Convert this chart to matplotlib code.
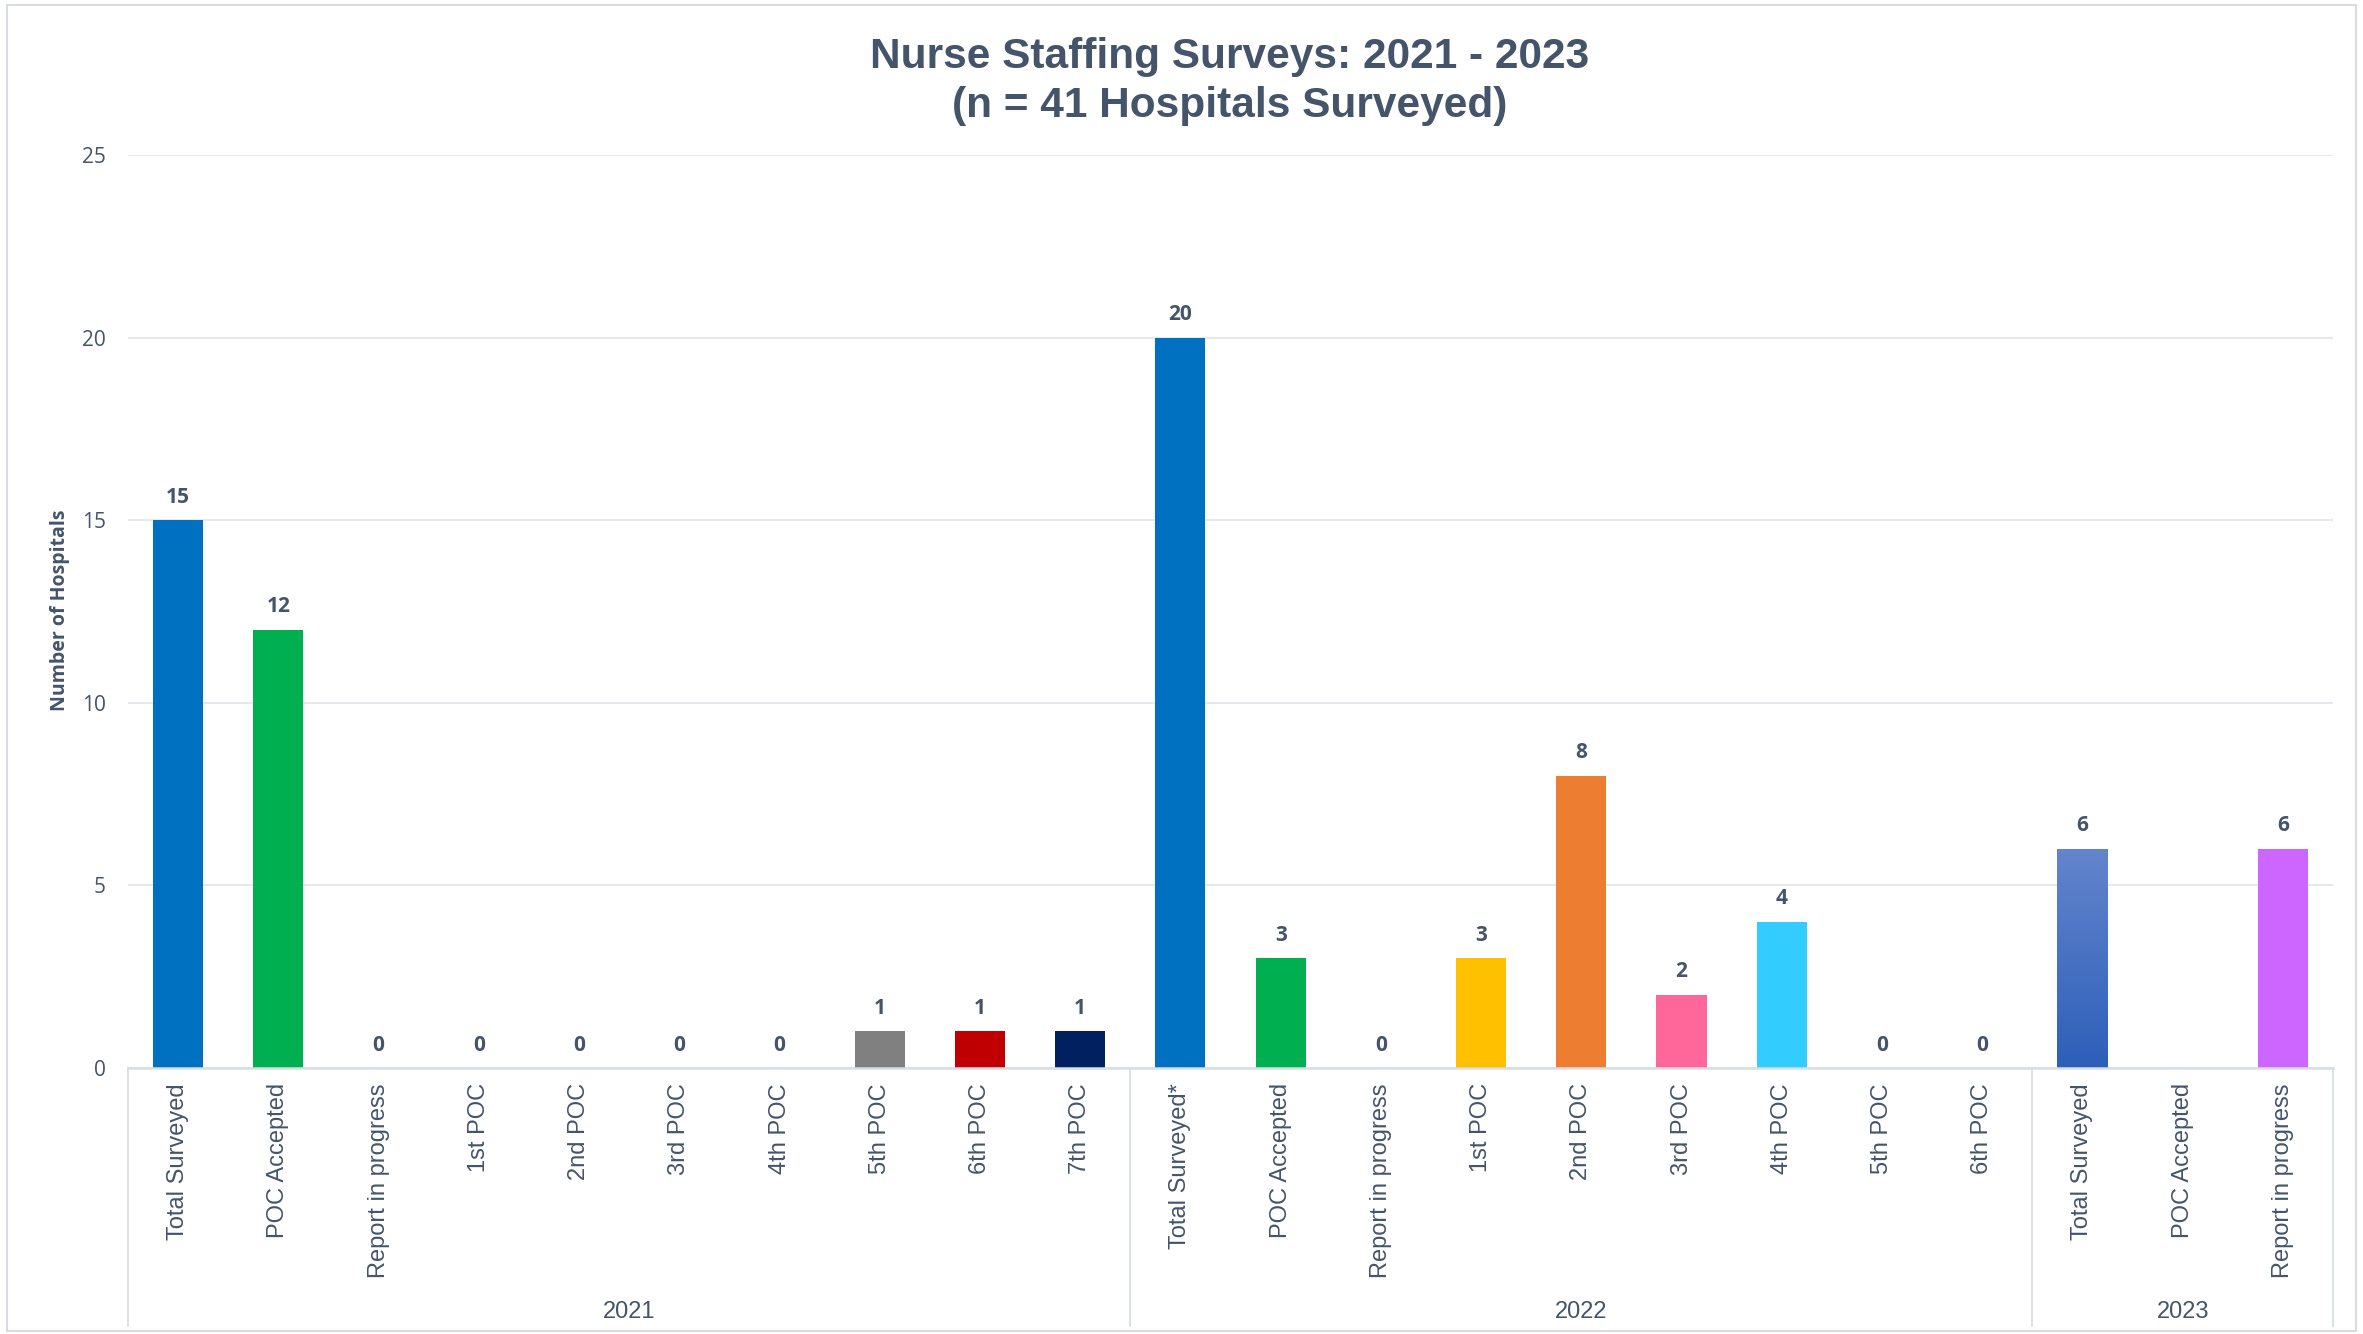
import numpy as np
import matplotlib.pyplot as plt
import matplotlib.transforms as mtransforms
from matplotlib import font_manager
from matplotlib.patches import Rectangle
from matplotlib.colors import LinearSegmentedColormap


def pick_font(names):
    # first family from the list that is actually installed
    have = {f.name for f in font_manager.fontManager.ttflist}
    for n in names:
        if n in have:
            return n
    return "DejaVu Sans"


# ---- data ----
years = ["2021", "2022", "2023"]

labels_2021 = ["Total Surveyed", "POC Accepted", "Report in progress", "1st POC", "2nd POC",
               "3rd POC", "4th POC", "5th POC", "6th POC", "7th POC"]
values_2021 = [15, 12, 0, 0, 0, 0, 0, 1, 1, 1]
colors_2021 = ["#0070C0", "#00B050", "#A5A5A5", "#A5A5A5", "#A5A5A5",
               "#A5A5A5", "#A5A5A5", "#808080", "#C00000", "#002060"]

labels_2022 = ["Total Surveyed*", "POC Accepted", "Report in progress", "1st POC", "2nd POC",
               "3rd POC", "4th POC", "5th POC", "6th POC"]
values_2022 = [20, 3, 0, 3, 8, 2, 4, 0, 0]
colors_2022 = ["#0070C0", "#00B050", "#A5A5A5", "#FFC000", "#ED7D31",
               "#FF6699", "#33CCFF", "#A5A5A5", "#A5A5A5"]

labels_2023 = ["Total Surveyed", "POC Accepted", "Report in progress"]
values_2023 = [6, np.nan, 6]
colors_2023 = ["#4472C4", "#A5A5A5", "#CC66FF"]

gradient_2023 = ("#6485CD", "#2D5FB9")  # top -> bottom of 2023 Total Surveyed bar

text_color = "#44546A"
grid_color = "#E3E7EC"

arial = pick_font(["Liberation Sans", "Arial"])
label_font = pick_font(["Open Sans", "Noto Sans", "DejaVu Sans"])

# flatten the three groups
cat_labels = labels_2021 + labels_2022 + labels_2023
values = np.array(values_2021 + values_2022 + values_2023, dtype=float)
colors = colors_2021 + colors_2022 + colors_2023
group_sizes = [len(labels_2021), len(labels_2022), len(labels_2023)]
x = np.arange(len(cat_labels))

fig = plt.figure(figsize=(23.63, 13.34), dpi=100)
ax = fig.add_axes([0.0542, 0.1994, 0.9331, 0.6844])

# outer chart border
fig.patches.append(Rectangle((0.003, 0.002), 0.994, 0.994, transform=fig.transFigure,
                             fill=False, edgecolor="#D9DDE3", linewidth=1.5))

ok = ~np.isnan(values)
bars = ax.bar(x[ok], values[ok], width=0.5, color=[c for c, k in zip(colors, ok) if k], zorder=3)

# gradient fill for the 2023 Total Surveyed bar
idx_grad = len(labels_2021) + len(labels_2022)
bar_grad = bars[list(x[ok]).index(idx_grad)]
bx, by = bar_grad.get_x(), bar_grad.get_y()
bw, bh = bar_grad.get_width(), bar_grad.get_height()
cmap = LinearSegmentedColormap.from_list("g", [gradient_2023[1], gradient_2023[0]])
im = ax.imshow(np.linspace(0, 1, 256).reshape(-1, 1), cmap=cmap, origin="lower",
               extent=[bx, bx + bw, by, by + bh], aspect="auto", zorder=4)
im.set_clip_path(bar_grad)

# data labels
for xi, v in zip(x, values):
    if np.isnan(v):
        continue
    ax.annotate(f"{int(v)}", (xi, v), xytext=(0, 9), textcoords="offset points",
                ha="center", va="bottom", fontsize=15, fontweight="bold",
                color=text_color, family=label_font)

ax.set_xlim(-0.5, len(cat_labels) - 0.5)
ax.set_ylim(0, 25)
ax.set_yticks([0, 5, 10, 15, 20, 25])
ax.yaxis.grid(True, color=grid_color, linewidth=1.3, zorder=0)
ax.set_axisbelow(True)

for s in ["top", "right", "left"]:
    ax.spines[s].set_visible(False)
ax.spines["bottom"].set_color("#D9DEE4")
ax.spines["bottom"].set_linewidth(1.8)
ax.spines["bottom"].set_zorder(5)

ax.tick_params(axis="y", length=0, pad=16, labelsize=15, labelcolor=text_color)
for t in ax.get_yticklabels():
    t.set_family(label_font)

ax.set_xticks(x)
ax.set_xticklabels(cat_labels, rotation=90, family=arial, fontsize=17, color=text_color)
ax.tick_params(axis="x", length=0, pad=11)

# group separators and year labels below the category labels
trans = mtransforms.blended_transform_factory(ax.transData, ax.transAxes)
edges = np.concatenate([[0], np.cumsum(group_sizes)]) - 0.5
for e in edges:
    ax.plot([e, e], [0, -0.283], transform=trans, color="#D9DEE4", linewidth=1.3,
            clip_on=False, zorder=5)
for yr, a, b in zip(years, edges[:-1], edges[1:]):
    ax.text((a + b) / 2, -0.267, yr, transform=trans, ha="center", va="center",
            fontsize=17, color=text_color, family=arial)

fig.text(0.0255, 0.5425, "Number of Hospitals", rotation=90, ha="center", va="center",
         fontsize=14, fontweight="bold", color=text_color, family=label_font)

fig.text(0.5205, 0.9575, "Nurse Staffing Surveys: 2021 - 2023", ha="center", va="center",
         fontsize=30.5, fontweight="bold", color=text_color, family=arial)
fig.text(0.5205, 0.9205, "(n = 41 Hospitals Surveyed)", ha="center", va="center",
         fontsize=30.5, fontweight="bold", color=text_color, family=arial)

fig.savefig("out.png", dpi=100, facecolor="white")
